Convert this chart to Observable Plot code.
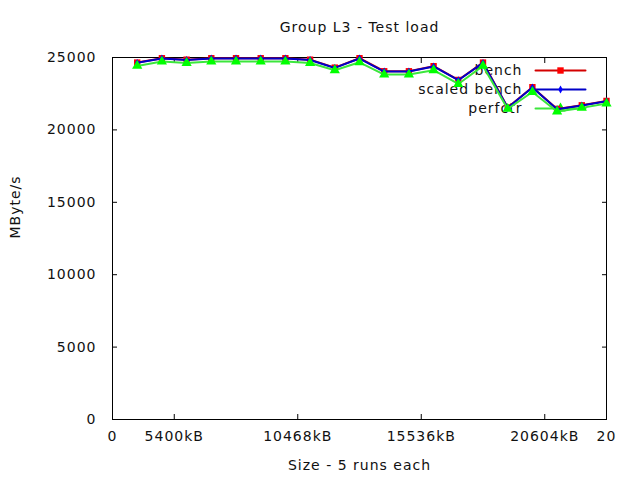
<!DOCTYPE html>
<html><head><meta charset="utf-8">
<script src="https://cdn.jsdelivr.net/npm/d3@7"></script>
<script src="https://cdn.jsdelivr.net/npm/@observablehq/plot@0.6"></script>
<style>
body{margin:0;background:#fff}
#chart svg{font-family:"DejaVu Sans",sans-serif;font-size:14px;letter-spacing:1px;}
#chart svg text{font-size:14px;fill:#111;}
</style>
</head><body><div id="chart"></div>
<script>
const runIndex = d3.range(1, 21);
const bench   = [24650, 24950, 24850, 24950, 24950, 24950, 24950, 24850, 24300, 24950, 24050, 24050, 24400, 23450, 24650, 21550, 22950, 21450, 21700, 22000];
const scaledBench = [24630, 24930, 24830, 24930, 24930, 24930, 24930, 24830, 24280, 24930, 24030, 24030, 24380, 23430, 24630, 21530, 22930, 21430, 21680, 21980];
const perfctr = [24420, 24720, 24620, 24720, 24720, 24720, 24720, 24620, 24120, 24670, 23820, 23820, 24120, 23170, 24420, 21450, 22620, 21270, 21520, 21820];
const xTickPos = [0, 2.5, 7.5, 12.5, 17.5, 20];
const xTickLabels = ["0", "5400kB", "10468kB", "15536kB", "20604kB", "20"];
const yTicks = [0, 5000, 10000, 15000, 20000, 25000];
const seriesNames = ["bench", "scaled bench", "perfctr"];
const lineColors = ["#d40000", "#0000c8", "#3ce63c"];
const markColors = ["#ff0000", "#0000ff", "#00ff00"];
const symbols = ["square", "diamond", "triangle"];
const symbolR = [3.6, 2.4, 3.8];
const seriesValues = [bench, scaledBench, perfctr];

const tables = seriesValues.map(vals => runIndex.map((x, i) => ({x, y: vals[i]})));
const xLabel = d => xTickLabels[xTickPos.indexOf(d)];

const marks = [
  Plot.frame({stroke: "black", strokeWidth: 1}),
  Plot.axisY({ticks: yTicks, tickSize: 0, tickPadding: 16, label: null, fontSize: 14, tickFormat: d => String(d)}),
  Plot.axisY({ticks: yTicks, tickSize: -5, label: null, tickFormat: () => ""}),
  Plot.axisY({anchor: "right", ticks: yTicks, tickSize: -5, label: null, tickFormat: () => ""}),
  Plot.axisX({ticks: xTickPos, tickSize: 0, tickPadding: 12, label: null, fontSize: 14, tickFormat: xLabel}),
  Plot.axisX({ticks: xTickPos, tickSize: -5, label: null, tickFormat: () => ""}),
  Plot.axisX({anchor: "top", ticks: xTickPos, tickSize: -5, label: null, tickFormat: () => ""}),
  Plot.text(["Group L3 - Test load"], {frameAnchor: "top", dy: -30, lineAnchor: "middle", fill: "black", fontSize: 14}),
  Plot.text(["Size - 5 runs each"], {frameAnchor: "bottom", dy: 46, lineAnchor: "middle", fill: "black", fontSize: 14}),
  Plot.text(["MByte/s"], {frameAnchor: "left", dx: -97, rotate: -90, lineAnchor: "middle", fill: "black", fontSize: 14})
];

const tickShape = {draw(ctx, l) { ctx.moveTo(0, 0); ctx.lineTo(0, -l); }};
seriesNames.forEach((name, i) => {
  const dy = 13 + 19 * i;
  marks.push(Plot.text([name], {frameAnchor: "top-right", dx: -84, dy, textAnchor: "end", lineAnchor: "middle", fill: "black", fontSize: 14}));
  marks.push(Plot.vector([0], {frameAnchor: "top-right", dx: -71, dy, rotate: 90, length: 50, anchor: "start", shape: tickShape, stroke: lineColors[i], strokeWidth: 2}));
  marks.push(Plot.dot([0], {frameAnchor: "top-right", dx: -46, dy, symbol: symbols[i], r: symbolR[i], fill: markColors[i], stroke: "none"}));
});

tables.forEach((t, i) => {
  marks.push(Plot.line(t, {x: "x", y: "y", stroke: lineColors[i], strokeWidth: 2}));
  marks.push(Plot.dot(t, {x: "x", y: "y", symbol: symbols[i], r: symbolR[i], fill: markColors[i], stroke: "none"}));
});

const chart = Plot.plot({
  width: 640, height: 480,
  marginLeft: 112, marginRight: 34, marginTop: 57, marginBottom: 61,
  x: {domain: [0, 20]},
  y: {domain: [0, 25000]},
  style: {fontFamily: "DejaVu Sans", fontSize: "14px", background: "white", color: "black"},
  marks
});
document.getElementById("chart").appendChild(chart);
</script>
</body></html>
